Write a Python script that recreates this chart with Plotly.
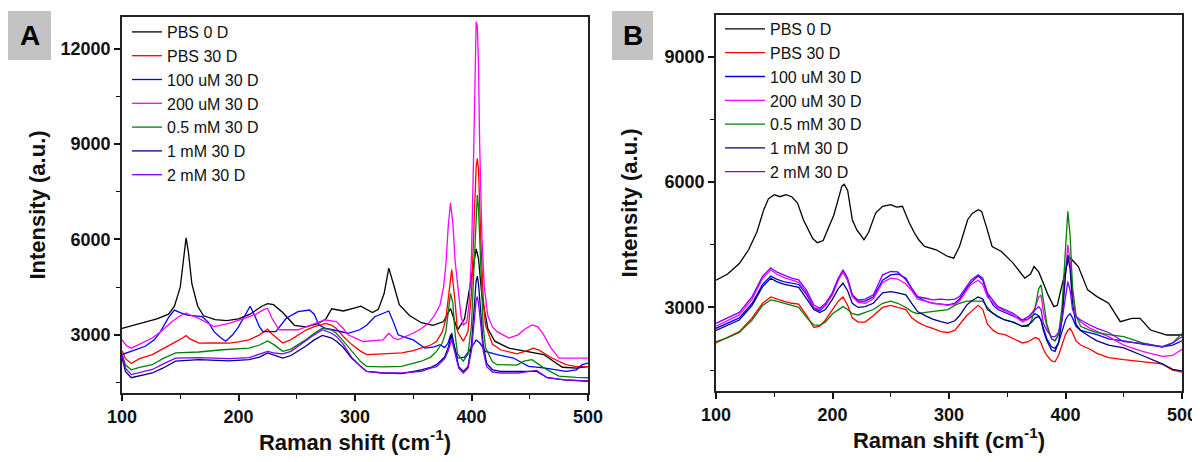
import plotly.graph_objects as go

# ---------------- Panel A data ----------------
names = ["PBS 0 D", "PBS 30 D", "100 uM 30 D", "200 uM 30 D", "0.5 mM 30 D", "1 mM 30 D", "2 mM 30 D"]
colors = ["#000000", "#ff0000", "#0000ff", "#ff00ff", "#008000", "#000080", "#8000ff"]

a_pbs0_x = [100,110,120,130,140,145,150,153,155,157,160,165,170,180,190,200,210,220,225,230,238,248,258,268,275,280,290,300,305,315,320,325,329,333,338,347,357,367,376,380,382,384,388,394,399,402,404,406,409,414,420,432,449,462,478,490,500]
a_pbs0_y = [3200,3300,3400,3500,3650,3900,4500,5400,6050,5600,4600,3900,3600,3480,3450,3500,3650,3900,3980,3950,3700,3300,3250,3350,3500,3820,3750,3850,3900,3700,3800,4300,5100,4600,3950,3600,3380,3300,3420,3700,3830,3600,3150,3500,4600,5400,5700,5400,4200,3200,2800,2580,2480,2380,1980,1950,2000]

a_pbs30_x = [100,103,108,115,126,135,146,152,155,158,166,180,192,200,209,218,222,225,228,238,245,251,258,265,270,275,280,284,290,297,305,310,324,340,350,357,365,370,375,378,380,383,386,388,393,397,400,402,404,405,406,408,410,412,418,425,439,449,453,458,469,481,490,500]
a_pbs30_y = [2500,2250,2100,2250,2380,2550,2780,2900,2980,2880,2740,2750,2740,2780,2840,3000,3100,3180,3050,2740,2850,3000,3150,3260,3320,3360,3300,3200,2950,2700,2480,2380,2400,2430,2500,2580,2680,2790,3100,3500,4200,5050,4000,3100,2800,3100,4300,6500,8300,8550,8200,6000,4200,3300,2700,2530,2400,2520,2580,2520,2270,2060,2000,2000]

a_100um_x = [100,110,120,128,133,140,145,150,156,169,174,179,185,189,195,200,205,210,214,218,221,232,241,251,261,265,269,275,281,294,304,310,317,323,329,333,337,345,350,360,368,373,377,380,382,384,388,394,400,404,407,412,422,436,449,462,481,490,495,500]
a_100um_y = [2380,2500,2640,2850,3100,3550,3780,3700,3620,3570,3400,3100,2900,2800,3000,3250,3600,3900,3600,3250,3100,3100,3520,3730,3780,3650,3310,3200,3160,3050,3160,3300,3570,3650,3750,3400,3000,2900,2840,2580,2620,2690,2600,2750,3000,2800,2270,2300,2600,2840,2750,2480,2380,2270,2010,1960,1850,1900,2060,2110]

a_200um_x = [100,104,108,115,126,135,143,150,155,160,166,179,192,205,215,222,225,229,235,251,265,274,284,290,294,307,324,329,333,337,350,357,363,368,373,376,378,380,382,384,386,388,391,393,396,398,400,402,403,404,405,406,407,409,411,414,418,422,432,440,445,452,457,462,468,475,490,500]
a_200um_y = [2840,2650,2580,2700,2900,3150,3420,3600,3680,3600,3520,3260,3360,3520,3650,3800,3830,3500,3160,3160,3360,3470,3420,3200,3000,2790,2840,3050,2900,2850,3050,3200,3360,3600,3940,4500,5190,6400,7150,6500,5300,4670,3600,3310,3400,4000,5500,9000,11500,12850,12700,11500,9000,6000,4500,3600,3250,3100,2900,3000,3160,3310,3250,3000,2600,2270,2270,2270]

a_05mm_x = [100,103,108,115,126,135,146,155,166,186,209,218,225,230,238,245,251,258,265,272,280,284,290,297,305,310,324,340,357,365,370,375,378,380,382,384,386,388,393,397,400,402,404,405,406,408,410,412,418,422,439,445,452,462,475,490,500]
a_05mm_y = [2380,2050,1900,1980,2060,2250,2430,2450,2460,2530,2580,2680,2810,2700,2480,2550,2690,2850,3050,3210,3150,3050,2800,2480,2150,2010,1990,2010,2170,2300,2480,2750,3100,3700,4300,4000,3000,2400,2170,2400,3300,5000,7000,7400,7000,5000,3300,2600,2150,2060,2050,2170,2220,1960,1700,1660,1650]

a_1mm_x = [100,103,108,115,126,135,146,166,192,209,218,225,232,238,245,251,258,265,272,280,284,290,297,305,310,324,340,357,365,370,377,380,383,386,389,393,397,400,402,404,405,406,408,410,413,418,425,440,456,465,480,500]
a_1mm_y = [2270,1850,1650,1700,1800,1950,2170,2220,2180,2220,2300,2430,2350,2270,2350,2480,2650,2840,2980,2900,2800,2600,2270,2000,1850,1800,1780,1900,1980,2060,2300,2600,3050,2500,2000,1850,2000,2700,3800,4700,4850,4600,3700,2700,2100,1900,1850,1850,1850,1650,1580,1540]

a_2mm_x = [100,103,108,115,126,135,146,166,192,209,218,225,232,238,245,251,258,265,272,280,284,290,297,305,310,324,340,357,365,370,377,380,383,386,389,393,397,400,402,404,405,406,408,410,413,418,425,440,456,465,480,500]
a_2mm_y = [2380,1950,1750,1820,1910,2080,2270,2280,2250,2280,2380,2480,2420,2400,2480,2640,2800,3000,3160,3050,2950,2700,2300,2000,1850,1800,1800,1850,1950,2000,2250,2500,2850,2400,1950,1800,1950,2500,3400,4100,4200,4000,3300,2500,2000,1830,1800,1800,1880,1650,1580,1550]

# ---------------- Panel B data ----------------
b_pbs0_x = [100,110,120,128,135,141,145,150,155,160,165,170,175,179,183,187,192,197,201,205,208,210,213,217,221,224,227,231,237,243,250,255,260,266,270,274,279,289,299,304,309,316,320,325,328,332,337,345,355,365,370,373,377,381,385,390,393,396,400,403,407,411,419,427,437,447,457,464,473,487,500]
b_pbs0_y = [3650,3800,4050,4380,4800,5340,5600,5700,5650,5700,5650,5500,5100,4860,4650,4550,4600,4940,5200,5600,5900,5950,5800,5100,4850,4740,4620,4800,5260,5420,5460,5400,5420,5020,4800,4620,4460,4380,4220,4180,4460,5100,5250,5340,5300,4940,4460,4340,4060,3700,3800,3980,3850,3580,3300,3020,3050,3420,3900,4220,4100,3980,3420,3260,3100,2660,2740,2740,2460,2340,2340]

b_x = [100,110,120,131,140,147,152,158,165,171,178,184,189,194,200,205,209,213,217,222,228,235,243,250,256,263,268,273,280,286,293,299,305,309,315,319,325,329,333,338,342,348,355,363,368,371,374,377,379,381,384,388,391,394,397,400,402,404,406,409,413,421,427,437,450,466,483,492,500]
b_pbs30_y = [2150,2280,2420,2750,3100,3250,3200,3150,3100,3080,2800,2520,2550,2700,2950,3150,3250,3050,2750,2650,2650,2800,3000,3050,3000,2950,2750,2650,2550,2500,2420,2400,2450,2600,2800,2900,3050,2950,2600,2450,2380,2350,2250,2150,2180,2230,2280,2250,2150,2000,1850,1720,1700,1850,2100,2350,2450,2500,2400,2200,2100,2000,1900,1800,1750,1700,1650,1500,1450]
b_100um_y = [2500,2620,2750,3100,3550,3750,3680,3620,3580,3550,3300,2980,2920,3050,3350,3700,3850,3650,3300,3150,3150,3250,3650,3780,3800,3700,3450,3250,3150,3100,3080,3060,3100,3200,3450,3600,3750,3650,3300,3050,2950,2880,2800,2700,2720,2780,2850,2800,2700,2500,2250,2060,2020,2150,2400,2700,2800,2850,2750,2550,2450,2400,2350,2250,2200,2120,2060,2100,2200]
b_200um_y = [2550,2680,2820,3200,3700,3900,3800,3720,3650,3600,3350,3000,2950,3050,3300,3650,3850,3650,3250,3120,3100,3200,3600,3700,3680,3560,3400,3200,3150,3100,3080,3050,3080,3150,3400,3550,3650,3550,3250,3100,3000,2920,2820,2650,2720,2850,3000,3250,3300,2900,2550,2250,2200,2350,2800,3800,4500,4100,3300,2800,2650,2500,2420,2300,2100,1950,1830,1850,2000]
b_05mm_y = [2180,2280,2400,2700,3050,3180,3150,3100,3050,3000,2750,2580,2570,2650,2850,2950,3020,2950,2850,2820,2880,2950,3100,3150,3100,3000,2900,2850,2880,2900,2920,2950,3050,3100,3150,3150,3150,3150,3000,2850,2780,2700,2650,2550,2550,2700,3000,3450,3540,3200,2600,2250,2200,2350,3000,4400,5300,4700,3500,2800,2550,2450,2400,2350,2300,2150,2050,2150,2380]
b_1mm_y = [2450,2580,2700,3050,3500,3700,3620,3560,3520,3480,3200,2950,2880,2950,3200,3450,3580,3400,3100,3000,3020,3100,3350,3380,3350,3300,3100,2900,2800,2720,2660,2620,2680,2800,3050,3150,3250,3200,2950,2850,2780,2700,2650,2550,2580,2650,2750,2780,2700,2450,2200,1980,1950,2150,2700,3800,4250,3900,3100,2600,2450,2300,2200,2100,2030,1850,1650,1520,1480]
b_2mm_y = [2620,2750,2880,3260,3750,3950,3850,3780,3700,3660,3400,3060,2980,3100,3350,3700,3900,3700,3300,3180,3200,3300,3780,3860,3850,3660,3450,3260,3220,3180,3200,3180,3200,3260,3500,3660,3780,3700,3340,3150,3020,2950,2860,2700,2780,2860,2950,3020,2950,2620,2450,2300,2300,2400,2700,3300,3620,3400,2950,2780,2700,2580,2500,2400,2180,2140,2060,2150,2300]

# ---------------- axis settings ----------------
x_ticks = [100, 200, 300, 400, 500]
a_yticks = [3000, 6000, 9000, 12000]
b_yticks = [3000, 6000, 9000]
a_yrange = [1170, 13000]
b_yrange = [1000, 10000]
x_range = [100, 500]

# the page body has an 8px margin: the figure is drawn from (8, 8)
OFF = 8
W, H = 1200 - OFF, 462 - OFF
def px(x):
    return (x - OFF) / W
def py(y):
    return 1 - (y - OFF) / H

FONT = "Liberation Sans, Arial, sans-serif"

fig = go.Figure()

a_series = [(a_pbs0_x, a_pbs0_y), (a_pbs30_x, a_pbs30_y), (a_100um_x, a_100um_y),
            (a_200um_x, a_200um_y), (a_05mm_x, a_05mm_y), (a_1mm_x, a_1mm_y), (a_2mm_x, a_2mm_y)]
for (xs, ys), nm, c in zip(a_series, names, colors):
    fig.add_trace(go.Scatter(x=xs, y=ys, mode="lines", name=nm, line=dict(color=c, width=1.3),
                             xaxis="x", yaxis="y", legend="legend"))

b_series = [(b_pbs0_x, b_pbs0_y), (b_x, b_pbs30_y), (b_x, b_100um_y), (b_x, b_200um_y),
            (b_x, b_05mm_y), (b_x, b_1mm_y), (b_x, b_2mm_y)]
for (xs, ys), nm, c in zip(b_series, names, colors):
    fig.add_trace(go.Scatter(x=xs, y=ys, mode="lines", name=nm, line=dict(color=c, width=1.3),
                             xaxis="x2", yaxis="y2", legend="legend2"))

tickfont = dict(family=FONT, size=18, color="#111", weight="bold")
titlefont = dict(family=FONT, size=22, color="#111", weight="bold")

def xaxis(domain, anchor):
    return dict(domain=domain, anchor=anchor, range=x_range, tickvals=x_ticks,
                ticktext=[str(v) for v in x_ticks], automargin=False,
                ticks="outside", ticklen=6, tickwidth=1.5, tickcolor="#111",
                minor=dict(ticks="outside", ticklen=4, tickwidth=1.2, tickcolor="#111", dtick=50, tick0=0, showgrid=False),
                showline=True, linewidth=1.8, linecolor="#222", mirror=True,
                showgrid=False, zeroline=False, tickfont=tickfont,
                title=dict(text="Raman shift (cm<sup>-1</sup>)", font=titlefont, standoff=5))

def yaxis(domain, anchor, rng, tv, standoff):
    return dict(domain=domain, anchor=anchor, range=rng, tickvals=tv,
                ticktext=[str(v) for v in tv], automargin=False,
                ticks="outside", ticklen=6, tickwidth=1.5, tickcolor="#111",
                minor=dict(ticks="outside", ticklen=4, tickwidth=1.2, tickcolor="#111", dtick=1500, tick0=0, showgrid=False),
                showline=True, linewidth=1.8, linecolor="#222", mirror=True,
                showgrid=False, zeroline=False, tickfont=tickfont,
                title=dict(text="Intensity (a.u.)", font=titlefont, standoff=standoff))

legfont = dict(family=FONT, size=16, color="#111")

fig.update_layout(
    width=W, height=H, margin=dict(l=0, r=0, t=0, b=0, autoexpand=False),
    paper_bgcolor="white", plot_bgcolor="white",
    xaxis=xaxis([px(122), px(588)], "y"),
    yaxis=yaxis([py(393), py(17)], "x", a_yrange, a_yticks, 9),
    xaxis2=xaxis([px(716), px(1182)], "y2"),
    yaxis2=yaxis([py(391), py(15)], "x2", b_yrange, b_yticks, 21),
    legend=dict(x=px(127), y=py(15), xanchor="left", yanchor="top", font=legfont,
                bgcolor="rgba(0,0,0,0)", itemwidth=30, tracegroupgap=0),
    legend2=dict(x=px(720), y=py(12), xanchor="left", yanchor="top", font=legfont,
                 bgcolor="rgba(0,0,0,0)", itemwidth=40, tracegroupgap=0),
    showlegend=True,
)

# panel letters
for (x0, x1, y0, y1, letter) in [(8, 51, 11, 60, "A"), (612, 653, 11, 60, "B")]:
    fig.add_shape(type="rect", xref="paper", yref="paper", x0=px(x0), x1=px(x1), y0=py(y1), y1=py(y0),
                  fillcolor="#c3c3c3", line=dict(width=0), layer="below")
    fig.add_annotation(xref="paper", yref="paper", x=px((x0 + x1) / 2), y=py((y0 + y1) / 2),
                       text=letter, showarrow=False, xanchor="center", yanchor="middle",
                       font=dict(family=FONT, size=28, color="#000", weight="bold"))

fig.write_html("out.html")
